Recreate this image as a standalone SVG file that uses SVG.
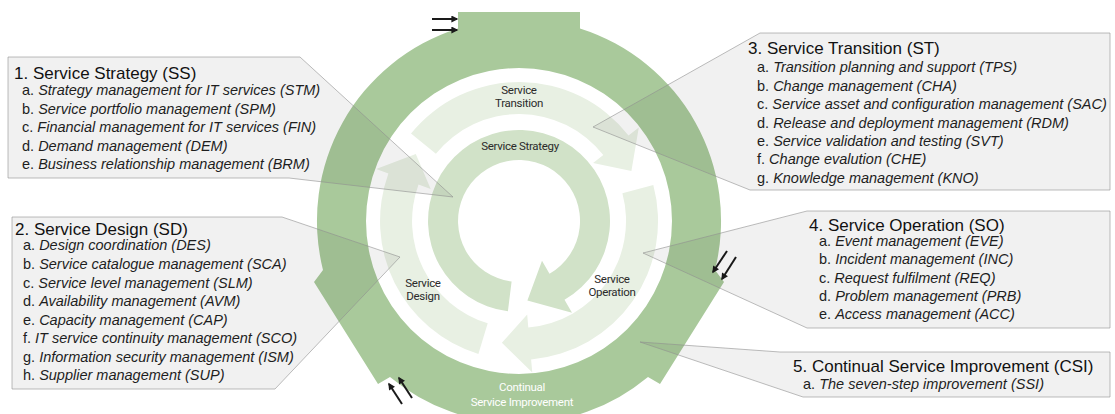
<svg xmlns="http://www.w3.org/2000/svg" width="1115" height="414" viewBox="0 0 1115 414">
<defs>
<style>
.ring{fill:#a9c99b;fill-rule:evenodd}
.mid{fill:#e8f0e3}
.core{fill:#d1e2c8}
.lbl{font-family:Roboto,"Open Sans",sans-serif;font-size:11.5px;fill:#2b2b2b;text-anchor:middle;letter-spacing:-0.3px}
.csi{fill:#ffffff}
.box{fill:#000000;fill-opacity:0.055;stroke:#8f8f8f;stroke-opacity:0.6;stroke-width:1}
.t{font-family:"Liberation Sans",Arial,sans-serif;font-size:17px;fill:#111111}
.i{font-family:"Liberation Sans",Arial,sans-serif;font-size:14.5px;fill:#1e1e1e}
.it{font-style:italic}
.arr{stroke:#1a1a1a;stroke-width:2;fill:none;marker-end:url(#ah)}
</style>
<marker id="ah" viewBox="0 0 10 10" refX="8" refY="5" markerWidth="4" markerHeight="3.5" orient="auto" markerUnits="strokeWidth"><path d="M0,0 L10,5 L0,10 z" fill="#1a1a1a"/></marker>
</defs>
<rect width="1115" height="414" fill="#ffffff"/>

<g id="csi-ring">
<path class="ring" d="M458,12 L580,12 L580,28.4 A202,202 0 0 1 715,270 L724,282 L660,384 L648,377 A202,202 0 0 1 390,377 L378,384 L314,282 L323,270 A202,202 0 0 1 458,28.4 Z M366,221 A153,153 0 1 0 672,221 A153,153 0 1 0 366,221 Z"/>
<text class="lbl csi" x="522" y="391">Continual</text>
<text class="lbl csi" x="522" y="406">Service Improvement</text>
</g>

<g id="service-transition">
<path class="mid" d="M411,133.5 A139,139 0 0 1 628.5,135.4 L638.8,127.4 L631.4,171 L593.1,163.1 L603.3,155.1 A107,107 0 0 0 435.9,153.7 Z"/>
<text class="lbl" x="519" y="94">Service</text>
<text class="lbl" x="519" y="107">Transition</text>
</g>

<g id="service-operation">
<path class="mid" d="M653.3,185 A139,139 0 0 1 531.1,359.5 L532.3,372.4 L501.9,342.8 L527.2,314.6 L528.3,327.6 A107,107 0 0 0 622.4,193.3 Z"/>
<text class="lbl" x="612" y="283">Service</text>
<text class="lbl" x="612" y="296">Operation</text>
</g>

<g id="service-design">
<path class="mid" d="M478.4,353.9 A139,139 0 0 1 388.4,173.5 L376.2,169 L415.8,154 L430.7,188.9 L418.5,184.4 A107,107 0 0 0 487.7,323.3 Z"/>
<text class="lbl" x="423" y="287">Service</text>
<text class="lbl" x="423" y="300">Design</text>
</g>

<g id="service-strategy">
<path class="core" d="M507.9,311.3 A91,91 0 1 1 564.5,299.8 L572,312.8 L527.4,300.6 L542,260.8 L549.5,273.8 A61,61 0 1 0 511.6,281.5 Z"/>
<text class="lbl" x="520" y="150">Service Strategy</text>
</g>

<g id="connectors">
<line class="arr" x1="432" y1="19" x2="457" y2="19"/>
<line class="arr" x1="432" y1="30" x2="457" y2="30"/>
<line class="arr" x1="727" y1="251" x2="713" y2="272"/>
<line class="arr" x1="736" y1="257" x2="722" y2="279"/>
<line class="arr" x1="402" y1="404" x2="389" y2="384"/>
<line class="arr" x1="412" y1="398" x2="399" y2="378"/>
</g>

<g id="box-ss">
<path class="box" d="M8,57 L300,57 L453,197 L289,178 L8,178 Z"/>
<text class="t" x="14" y="79">1. Service Strategy (SS)</text>
<text class="i" x="22" y="95">a. <tspan class="it">Strategy management for IT services (STM)</tspan></text>
<text class="i" x="22" y="114">b. <tspan class="it">Service portfolio management (SPM)</tspan></text>
<text class="i" x="22" y="132">c. <tspan class="it">Financial management for IT services (FIN)</tspan></text>
<text class="i" x="22" y="151">d. <tspan class="it">Demand management (DEM)</tspan></text>
<text class="i" x="22" y="169">e. <tspan class="it">Business relationship management (BRM)</tspan></text>
</g>

<g id="box-sd">
<path class="box" d="M12,217 L282,217 L400,257 L275,389 L12,389 Z"/>
<text class="t" x="15" y="235">2. Service Design (SD)</text>
<text class="i" x="23" y="250">a. <tspan class="it">Design coordination (DES)</tspan></text>
<text class="i" x="23" y="269">b. <tspan class="it">Service catalogue management (SCA)</tspan></text>
<text class="i" x="23" y="288">c. <tspan class="it">Service level management (SLM)</tspan></text>
<text class="i" x="23" y="306">d. <tspan class="it">Availability management (AVM)</tspan></text>
<text class="i" x="23" y="325">e. <tspan class="it">Capacity management (CAP)</tspan></text>
<text class="i" x="23" y="343">f. <tspan class="it">IT service continuity management (SCO)</tspan></text>
<text class="i" x="23" y="362">g. <tspan class="it">Information security management (ISM)</tspan></text>
<text class="i" x="23" y="380">h. <tspan class="it">Supplier management (SUP)</tspan></text>
</g>

<g id="box-st">
<path class="box" d="M760,33 L1110,33 L1110,190 L750,190 L593,127 Z"/>
<text class="t" x="748" y="54">3. Service Transition (ST)</text>
<text class="i" x="757" y="72">a. <tspan class="it">Transition planning and support (TPS)</tspan></text>
<text class="i" x="757" y="91">b. <tspan class="it">Change management (CHA)</tspan></text>
<text class="i" x="757" y="109">c. <tspan class="it">Service asset and configuration management (SAC)</tspan></text>
<text class="i" x="757" y="128">d. <tspan class="it">Release and deployment management (RDM)</tspan></text>
<text class="i" x="757" y="146">e. <tspan class="it">Service validation and testing (SVT)</tspan></text>
<text class="i" x="757" y="164">f. <tspan class="it">Change evalution (CHE)</tspan></text>
<text class="i" x="757" y="183">g. <tspan class="it">Knowledge management (KNO)</tspan></text>
</g>

<g id="box-so">
<path class="box" d="M807,211 L1110,211 L1110,328 L807,328 L643,253 Z"/>
<text class="t" x="809" y="231">4. Service Operation (SO)</text>
<text class="i" x="819" y="246">a. <tspan class="it">Event management (EVE)</tspan></text>
<text class="i" x="819" y="264">b. <tspan class="it">Incident management (INC)</tspan></text>
<text class="i" x="819" y="283">c. <tspan class="it">Request fulfilment (REQ)</tspan></text>
<text class="i" x="819" y="301">d. <tspan class="it">Problem management (PRB)</tspan></text>
<text class="i" x="819" y="319">e. <tspan class="it">Access management (ACC)</tspan></text>
</g>

<g id="box-csi">
<path class="box" d="M780,352 L1110,352 L1110,397 L803,397 L640,342 Z"/>
<text class="t" x="793" y="372">5. Continual Service Improvement (CSI)</text>
<text class="i" x="803" y="389">a. <tspan class="it">The seven-step improvement (SSI)</tspan></text>
</g>
</svg>
